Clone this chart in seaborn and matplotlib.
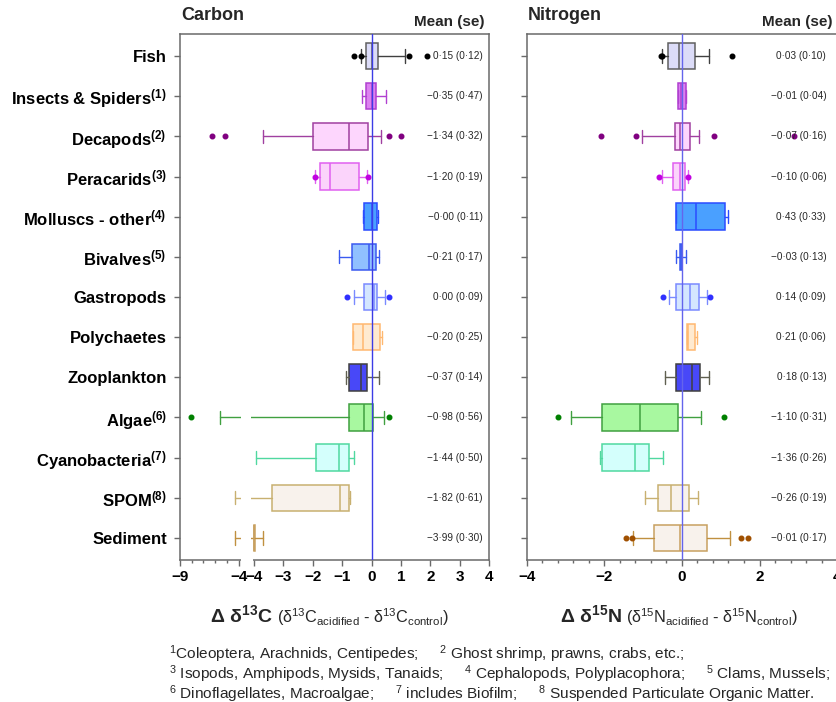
"""Acidification effect on d13C / d15N by taxon - boxplots from summary stats."""

import matplotlib
matplotlib.use("Agg")
import matplotlib.pyplot as plt
import matplotlib.transforms as mtransforms
from matplotlib.patches import Rectangle
import numpy as np
import seaborn as sns

groups = ["Fish", "Insects & Spiders", "Decapods", "Peracarids", "Molluscs - other",
          "Bivalves", "Gastropods", "Polychaetes", "Zooplankton", "Algae",
          "Cyanobacteria", "SPOM", "Sediment"]
notes = ["", "(1)", "(2)", "(3)", "(4)", "(5)", "", "", "", "(6)", "(7)", "(8)", ""]

# carbon: box summaries
c_q1 = [-0.18, -0.18, -2.00, -1.77, -0.26, -0.66, -0.24, -0.64, -0.78, -0.76, -1.88, -3.38, -4.00]
c_med = [0.02, 0.02, -0.78, -1.42, 0.00, -0.07, 0.07, -0.28, -0.37, -0.25, -1.10, -1.06, -3.99]
c_q3 = [0.23, 0.16, -0.13, -0.43, 0.18, 0.16, 0.18, 0.28, -0.15, 0.06, -0.77, -0.78, -3.98]
c_lo = [-0.37, -0.33, -3.68, -1.91, -0.30, -1.11, -0.60, -0.64, -0.87, -5.57, -3.92, -4.29, -4.29]
c_hi = [1.15, 0.49, 0.31, -0.14, 0.22, 0.24, 0.47, 0.35, 0.27, 0.41, -0.59, -0.73, -3.70]
c_fliers = [[-0.61, -0.37, 1.27, 1.88], [], [-6.29, -5.16, 0.59, 0.99], [-1.93, -0.13],
            [], [], [-0.84, 0.58], [], [], [-8.09, 0.61], [], [], []]
c_mean = [0.15, -0.35, -1.34, -1.20, -0.0, -0.21, 0.0, -0.20, -0.37, -0.98, -1.44, -1.82, -3.99]
c_se = [0.12, 0.47, 0.32, 0.19, 0.11, 0.17, 0.09, 0.25, 0.14, 0.56, 0.50, 0.61, 0.30]

# nitrogen
n_q1 = [-0.35, -0.10, -0.19, -0.22, -0.14, -0.04, -0.16, 0.12, -0.15, -2.05, -2.07, -0.61, -0.73]
n_med = [-0.08, -0.03, -0.04, -0.05, 0.36, -0.02, 0.21, 0.15, 0.27, -1.07, -1.22, -0.29, -0.05]
n_q3 = [0.33, 0.10, 0.21, 0.08, 1.10, -0.01, 0.45, 0.35, 0.46, -0.10, -0.85, 0.19, 0.64]
n_lo = [-0.51, -0.10, -1.02, -0.52, -0.16, -0.16, -0.34, 0.12, -0.43, -2.87, -2.12, -0.94, -1.25]
n_hi = [0.70, 0.10, 0.45, 0.15, 1.19, 0.11, 0.64, 0.40, 0.69, 0.50, -0.48, 0.42, 1.24]
n_fliers = [[-0.52, -0.53, 1.30], [], [-2.08, -1.19, 0.84, 2.88], [-0.59, 0.15], [], [],
            [-0.50, 0.73], [], [], [-3.20, 1.08], [], [], [-1.44, -1.28, 1.53, 1.70]]
n_mean = [0.03, -0.01, -0.07, -0.10, 0.43, -0.03, 0.14, 0.21, 0.18, -1.10, -1.36, -0.26, -0.01]
n_se = [0.10, 0.04, 0.16, 0.06, 0.33, 0.13, 0.09, 0.06, 0.13, 0.31, 0.26, 0.19, 0.17]

faces = ["#dcdcf8", "#dc80f0", "#fdd6fd", "#fbd4fb", "#4aa0ff", "#90c0ff", "#d4e6ff",
         "#ffead0", "#4848f8", "#a8f8a0", "#d4fffc", "#f8f2ec", "#f8f2ec"]
edges = ["#606060", "#b040d0", "#a040a0", "#e060f0", "#2a4cff", "#3a5af0", "#7a8aff",
         "#ffb870", "#404040", "#40a040", "#50d8a0", "#c8b070", "#c8a060"]
whisk = ["#404040", "#b040d0", "#a040a0", "#e060f0", "#2a4cff", "#3a5af0", "#7a8aff",
         "#ffb870", "#606050", "#40a040", "#50d8a0", "#c8b070", "#c09040"]
pts = ["#000000", "#9020b0", "#800080", "#c000e0", "#2040ff", "#2040ff", "#3030ff",
       "#ff9040", "#303030", "#008000", "#30c080", "#a08040", "#a05000"]

W, H = 836, 702
BREAK = -4.0
GAP = 0.52
SQUEEZE = 0.40


def fwd(v):
    v = np.asarray(v, dtype=float)
    return np.where(v >= BREAK, v, BREAK - GAP + (v - BREAK) * SQUEEZE)


def inv(u):
    u = np.asarray(u, dtype=float)
    low = BREAK + (u - BREAK + GAP) / SQUEEZE
    return np.where(u >= BREAK, u, np.where(u > BREAK - GAP, BREAK, low))


def fmt(m, s):
    return f"{m:.2f} ({s:.2f})".replace(".", "\u00b7").replace("-", "\u2212")


sns.set_style("ticks")
plt.rcParams["font.family"] = ["Liberation Sans", "DejaVu Sans"]
plt.rcParams.update({
    "mathtext.fontset": "custom",
    "mathtext.rm": "Liberation Sans",
    "mathtext.it": "Liberation Sans:italic",
    "mathtext.bf": "Liberation Sans:bold",
    "axes.edgecolor": "#6a6a6a",
    "axes.linewidth": 1.1,
    "xtick.color": "#6a6a6a",
    "ytick.color": "#6a6a6a",
    "xtick.labelcolor": "black",
    "ytick.labelcolor": "black",
})

fig = plt.figure(figsize=(W / 100, H / 100), dpi=100)
axC = fig.add_axes([180 / W, 1 - 560 / H, 309 / W, 526 / H])
axN = fig.add_axes([526.7 / W, 1 - 560 / H, 310.4 / W, 526 / H])


def draw_panel(ax, q1, med, q3, lo, hi, fliers, mean, se, zero_color, text_x):
    stats = [dict(q1=a, med=b, q3=c, whislo=d, whishi=e, fliers=np.array(f))
             for a, b, c, d, e, f in zip(q1, med, q3, lo, hi, fliers)]
    pos = np.arange(len(groups))
    art = ax.bxp(stats, positions=pos, widths=0.66, orientation="horizontal",
                 patch_artist=True, manage_ticks=False)
    for i in range(len(groups)):
        art["boxes"][i].set(facecolor=faces[i], edgecolor=edges[i], linewidth=1.1)
        art["medians"][i].set(color=edges[i], linewidth=1.1)
        for ln in art["whiskers"][2 * i:2 * i + 2] + art["caps"][2 * i:2 * i + 2]:
            ln.set(color=whisk[i], linewidth=1.0)
        art["fliers"][i].set(marker="o", markerfacecolor=pts[i], markeredgecolor=pts[i],
                             markersize=3.3, linestyle="none")
    ax.axvline(0, color=zero_color, lw=1.0, zorder=3)
    ax.set_ylim(len(groups) - 0.45, -0.55)
    trans = mtransforms.blended_transform_factory(ax.transAxes, ax.transData)
    for i, (m, s) in enumerate(zip(mean, se)):
        ax.text(text_x, i, fmt(m, s), transform=trans, ha="right", va="center",
                fontsize=7.2, zorder=4)
    ax.tick_params(axis="both", direction="out", length=4.5, width=1.0)
    ax.tick_params(axis="x", which="minor", direction="out", length=2.5, width=1.0)
    ax.grid(False)


# carbon panel with broken x axis
axC.set_xscale("function", functions=(fwd, inv))
draw_panel(axC, c_q1, c_med, c_q3, c_lo, c_hi, c_fliers, c_mean, c_se, "#3c3ce6", 0.98)
axC.set_xlim(-9, 4)
cticks = [-9, -4.0001, -4, -3, -2, -1, 0, 1, 2, 3, 4]
axC.set_xticks(cticks, labels=["\u22129", "\u22124", "\u22124", "\u22123", "\u22122", "\u22121",
                               "0", "1", "2", "3", "4"], fontsize=11, fontweight="bold")
axC.set_xticks([-8, -7, -6, -5], minor=True)
axC.set_yticks(np.arange(len(groups)),
               labels=[g + (r"$^{\mathbf{" + n + "}}$" if n else "") for g, n in zip(groups, notes)],
               fontsize=12, fontweight="bold")
axC.tick_params(axis="y", pad=5)
axC.tick_params(axis="x", pad=3)
# blank the whiskers across the axis break, and cut the bottom spine there
axC.add_patch(Rectangle(((241 - 180) / 309, 0), 10 / 309, 1, transform=axC.transAxes,
                        facecolor="white", edgecolor="none", zorder=2.2))
axC.add_patch(Rectangle(((240.8 - 180) / 309, -0.006), 12.2 / 309, 0.012, transform=axC.transAxes,
                        facecolor="white", edgecolor="none", zorder=2.6, clip_on=False))

# nitrogen panel
draw_panel(axN, n_q1, n_med, n_q3, n_lo, n_hi, n_fliers, n_mean, n_se, "#6464ec", 0.965)
axN.set_xlim(-4, 4)
axN.set_xticks([-4, -2, 0, 2, 4], labels=["\u22124", "\u22122", "0", "2", "4"],
               fontsize=11, fontweight="bold")
axN.set_xticks(np.arange(-4, 4.01, 0.4), minor=True)
axN.set_yticks(np.arange(len(groups)), labels=[])
axN.tick_params(axis="x", pad=3)

# headers
fig.text(181 / W, 1 - 16 / H, "Carbon", ha="left", va="center", fontsize=13, fontweight="bold")
fig.text(485 / W, 1 - 22 / H, "Mean (se)", ha="right", va="center", fontsize=11, fontweight="bold")
fig.text(528 / W, 1 - 16 / H, "Nitrogen", ha="left", va="center", fontsize=13, fontweight="bold")
fig.text(832 / W, 1 - 22 / H, "Mean (se)", ha="right", va="center", fontsize=11, fontweight="bold")

# axis labels
fig.text(273 / W, 1 - 615 / H, r"Δ δ$^{\mathbf{13}}$C", ha="right", va="center",
         fontsize=14, fontweight="bold")
fig.text(277 / W, 1 - 617 / H,
         r"(δ$^{13}$C$_{\mathrm{acidified}}$ - δ$^{13}$C$_{\mathrm{control}}$)",
         ha="left", va="center", fontsize=11.7)
fig.text(622 / W, 1 - 615 / H, r"Δ δ$^{\mathbf{15}}$N", ha="right", va="center",
         fontsize=14, fontweight="bold")
fig.text(626 / W, 1 - 617 / H,
         r"(δ$^{15}$N$_{\mathrm{acidified}}$ - δ$^{15}$N$_{\mathrm{control}}$)",
         ha="left", va="center", fontsize=11.7)

# footnotes
foot = [
    r"$^{1}$Coleoptera, Arachnids, Centipedes;     $^{2}$ Ghost shrimp, prawns, crabs, etc.;",
    r"$^{3}$ Isopods, Amphipods, Mysids, Tanaids;     $^{4}$ Cephalopods, Polyplacophora;     $^{5}$ Clams, Mussels;",
    r"$^{6}$ Dinoflagellates, Macroalgae;     $^{7}$ includes Biofilm;     $^{8}$ Suspended Particulate Organic Matter.",
]
for k, line in enumerate(foot):
    fig.text(169 / W, 1 - (654 + 20 * k) / H, line, ha="left", va="center", fontsize=11.1)

fig.savefig("out.png", dpi=100)
plt.close(fig)
